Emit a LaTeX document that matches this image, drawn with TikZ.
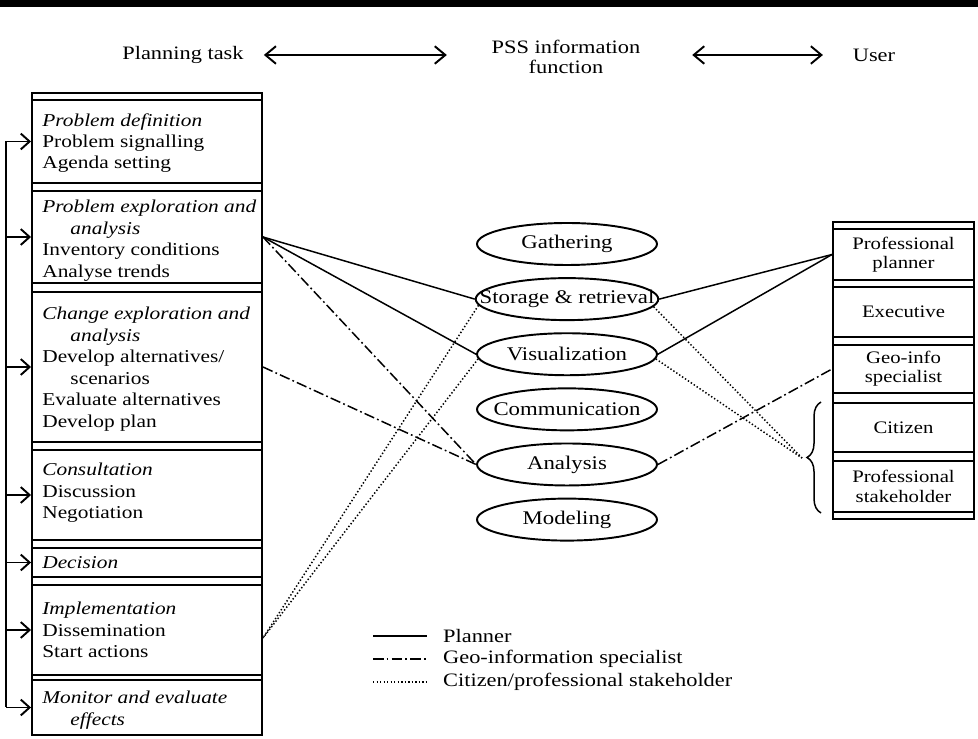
\documentclass[tikz,border=0pt]{standalone}
\usepackage{fontspec}
\setmainfont[FakeStretch=1.18]{Liberation Serif}
\usepackage{tikz}
\usetikzlibrary{positioning}
\usetikzlibrary{shapes.geometric,fit,arrows.meta,decorations.pathreplacing}

\begin{document}
\begin{tikzpicture}[x=0.02cm, y=-0.02cm, node distance={0.224cm},
    taskbox/.style = {draw, line width=1.1pt, inner sep=0pt},
    tasktext/.style = {anchor=north west, inner sep=0pt, align=left, font=\fontsize{10.3}{12.2}\selectfont},
    userbox/.style = {draw, line width=1.1pt, inner sep=0pt, align=center, minimum width=2.82cm, font=\fontsize{10}{11}\selectfont},
    func/.style = {draw, ellipse, line width=1.1pt, minimum width=3.6cm, minimum height=0.84cm, inner xsep=-13pt, inner ysep=0pt, font=\fontsize{11}{13}\selectfont},
    head/.style = {align=center, font=\fontsize{10.8}{11.4}\selectfont},
    legend/.style = {anchor=west, inner sep=0pt, inner xsep=9pt, font=\fontsize{10.8}{12}\selectfont},
    planner/.style = {line width=0.85pt},
    geoinfo/.style = {line width=0.85pt, dash pattern=on 6pt off 1.8pt on 1pt off 1.8pt},
    citizen/.style = {line width=0.85pt, dash pattern=on 0.8pt off 1.2pt},
    fb/.style = {-{Straight Barb[length=5pt,width=9pt]}, line width=1.1pt},
    biarrow/.style = {{Straight Barb[length=6pt,width=10pt]}-{Straight Barb[length=6pt,width=10pt]}, line width=1.1pt}]
    \useasboundingbox (0,0) rectangle (978,739);
    \draw[line width=0.14cm] (0,3.5) -- (978,3.5);
    % Headers
    \node[head] (h1) at (183,55) {Planning task};
    \node[head] (h2) at (566,57) {PSS information\\function};
    \node[head] (h3) at (874,55) {User};
    \draw[biarrow, shorten <=8pt, shorten >=22pt] (h1.east) -- (h1.east -| h2.west);
    \draw[biarrow, shorten <=26pt, shorten >=13.5pt] (h1.east -| h2.east) -- (h1.east -| h3.west);
    % Planning tasks
    \draw[taskbox] (32,93) rectangle (262,735);
    \node[taskbox, fit={(32,100) (262,183)}] (t1) {};
    \node[taskbox, fit={(32,191) (262,283)}] (t2) {};
    \node[taskbox, fit={(32,292) (262,442)}] (t3) {};
    \node[taskbox, fit={(32,450) (262,540)}] (t4) {};
    \node[taskbox, fit={(32,548) (262,577)}] (t5) {};
    \node[taskbox, fit={(32,585) (262,675)}] (t6) {};
    \node[taskbox, fit={(32,680) (262,735)}] (t7) {};
    \node[tasktext] (d1) at (42,113) {\textit{Problem definition}\\Problem signalling\\Agenda setting};
    \node[tasktext] (d2) at (42,200) {\textit{Problem exploration and}\\\hspace*{16pt}\textit{analysis}\\Inventory conditions\\Analyse trends};
    \node[tasktext] (d3) at (42,307) {\textit{Change exploration and}\\\hspace*{16pt}\textit{analysis}\\Develop alternatives/\\\hspace*{16pt}scenarios\\Evaluate alternatives\\Develop plan};
    \node[tasktext] (d4) at (42,463) {\textit{Consultation}\\Discussion\\Negotiation};
    \node[tasktext] (d5) at (42,556) {\textit{Decision}};
    \node[tasktext] (d6) at (42,602) {\textit{Implementation}\\Dissemination\\Start actions};
    \node[tasktext] (d7) at (42,691) {\textit{Monitor and evaluate}\\\hspace*{16pt}\textit{effects}};
    % Feedback loop
    \coordinate (rail) at (6,0);
    \draw[line width=1.1pt] (rail |- t1.west) -- (rail |- t7.west);
    \draw[fb] (rail |- t1.west) -- (t1.west);
    \draw[fb] (rail |- t2.west) -- (t2.west);
    \draw[fb] (rail |- t3.west) -- (t3.west);
    \draw[fb] (rail |- t4.west) -- (t4.west);
    \draw[fb] (rail |- t5.west) -- (t5.west);
    \draw[fb] (rail |- t6.west) -- (t6.west);
    \draw[fb] (rail |- t7.west) -- (t7.west);
    % Information functions
    \node[func] (gath) at (567,244) {Gathering};
    \node[func] (stor) [below=of gath] {Storage \& retrieval};
    \node[func] (visu) [below=of stor] {Visualization};
    \node[func] (comm) [below=of visu] {Communication};
    \node[func] (anal) [below=of comm] {Analysis};
    \node[func] (mode) [below=of anal] {Modeling};
    % Users
    \draw[taskbox] (833,222) rectangle (974,519);
    \node[userbox, minimum height=1.02cm] (u1) at (903.5,254.5) {Professional\\planner};
    \node[userbox, minimum height=1cm] (u2) at (903.5,312) {Executive};
    \node[userbox, minimum height=0.96cm] (u3) at (903.5,369) {Geo-info\\specialist};
    \node[userbox, minimum height=0.98cm] (u4) at (903.5,427.5) {Citizen};
    \node[userbox, minimum height=1.02cm] (u5) at (903.5,486.5) {Professional\\stakeholder};
    \draw[line width=0.85pt, decorate, decoration={brace, amplitude=8pt}] ([xshift=-0.22cm]u5.south west) -- ([xshift=-0.22cm]u4.north west);
    \coordinate (stake) at (802,458);
    % Links
    \draw[planner] (t2.east) -- (stor.west);
    \draw[planner] (t2.east) -- (visu.west);
    \draw[geoinfo] (t2.east) -- (anal.west);
    \draw[geoinfo] (t3.east) -- (anal.west);
    \draw[citizen] (stor.184) -- ([yshift=-0.16cm]t6.east);
    \draw[citizen] (visu.183) -- ([yshift=-0.16cm]t6.east);
    \draw[planner] (stor.east) -- (u1.west);
    \draw[planner] (visu.east) -- (u1.west);
    \draw[citizen] (stor.-5) -- (stake);
    \draw[citizen] (visu.-3) -- (stake);
    \draw[geoinfo] (anal.east) -- (u3.west);
    % Legend
    \coordinate (lg1) at (373,636);
    \coordinate (lg2) at (373,659);
    \coordinate (lg3) at (373,682);
    \node[legend] (k1) at (427,636) {Planner};
    \node[legend] (k2) at (427,659) {Geo-information specialist};
    \node[legend] (k3) at (427,682) {Citizen/professional stakeholder};
    \draw[planner] (lg1) -- (k1.west);
    \draw[geoinfo] (lg2) -- (k2.west);
    \draw[citizen] (lg3) -- (k3.west);
\end{tikzpicture}
\end{document}
